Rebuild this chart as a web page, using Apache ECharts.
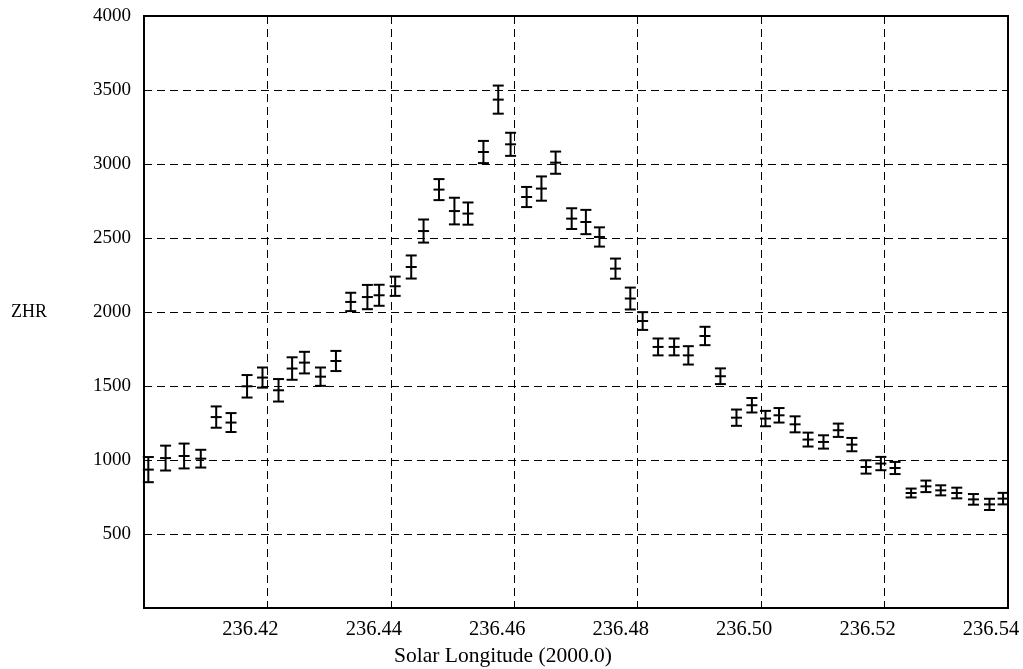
<!DOCTYPE html>
<html>
<head>
<meta charset="utf-8">
<script src="https://cdn.jsdelivr.net/npm/echarts@6/dist/echarts.min.js"></script>
<style>
html,body{margin:0;padding:0;background:#fff;}
#chart{width:1023px;height:669px;}
</style>
</head>
<body>
<div id="chart"></div>
<script>
// Solar longitude (J2000.0) of each ZHR estimate
const solarLongitude = [
  236.4007, 236.4035, 236.4065, 236.4092, 236.4117, 236.4141, 236.4167, 236.4192, 236.4218, 236.4240,
  236.4260, 236.4286, 236.4311, 236.4335, 236.4362, 236.4381, 236.4407, 236.4433, 236.4453, 236.4478,
  236.4503, 236.4525, 236.4550, 236.4574, 236.4594, 236.4620, 236.4644, 236.4667, 236.4693, 236.4716,
  236.4738, 236.4764, 236.4788, 236.4808, 236.4833, 236.4859, 236.4882, 236.4909, 236.4934, 236.4960,
  236.4985, 236.5007, 236.5029, 236.5055, 236.5076, 236.5101, 236.5125, 236.5147, 236.5170, 236.5194,
  236.5217, 236.5243, 236.5267, 236.5291, 236.5317, 236.5344, 236.5370, 236.5392
];
// ZHR values
const zhr = [
  935, 1013, 1027, 1009, 1290, 1253, 1498, 1557, 1471, 1618,
  1658, 1563, 1669, 2068, 2101, 2113, 2174, 2304, 2547, 2827,
  2682, 2665, 3081, 3435, 3133, 2777, 2834, 3009, 2631, 2608,
  2507, 2293, 2091, 1939, 1764, 1764, 1707, 1838, 1566, 1286,
  1370, 1280, 1302, 1241, 1138, 1122, 1201, 1104, 953, 976,
  946, 777, 822, 795, 777, 734, 700, 739
];
// ZHR error (half-length of error bar)
const zhrError = [
  85, 84, 84, 60, 72, 64, 76, 68, 76, 76,
  73, 62, 68, 62, 82, 71, 65, 78, 78, 71,
  90, 75, 75, 95, 78, 68, 82, 75, 70, 82,
  65, 68, 74, 60, 57, 57, 62, 62, 53, 55,
  49, 52, 49, 54, 47, 45, 45, 45, 45, 45,
  41, 30, 39, 34, 36, 36, 38, 39
];
const xTickLabels = ['236.42', '236.44', '236.46', '236.48', '236.50', '236.52', '236.54'];
const yTickLabels = ['500', '1000', '1500', '2000', '2500', '3000', '3500', '4000'];

const data = solarLongitude.map((x, i) => [x, zhr[i], zhrError[i]]);
const FONT = '"Liberation Serif", "DejaVu Serif", serif';

const chart = echarts.init(document.getElementById('chart'), null, {renderer: 'canvas'});
chart.setOption({
  animation: false,
  backgroundColor: '#ffffff',
  grid: {left: 144, right: 15, top: 16, bottom: 61, show: true, borderColor: '#000', borderWidth: 2,
         backgroundColor: 'transparent', containLabel: false, outerBoundsMode: 'none'},
  xAxis: {
    type: 'value', min: 236.40, max: 236.54, interval: 0.02,
    name: 'Solar Longitude (2000.0)', nameLocation: 'middle', nameGap: 35,
    nameTextStyle: {fontFamily: FONT, fontSize: 21.5, color: '#000', padding: [0, 146, 0, 0]},
    axisLine: {show: true, lineStyle: {color: '#000', width: 2}},
    axisTick: {show: false},
    axisLabel: {
      showMinLabel: false, showMaxLabel: true, margin: 11,
      fontFamily: FONT, fontSize: 20.5, color: '#000', padding: [0, 34, 0, 0],
      formatter: function (v) { const s = v.toFixed(2); return xTickLabels.indexOf(s) >= 0 ? s : ''; }
    },
    splitLine: {show: true, lineStyle: {color: '#000', width: 1, type: [8, 5]}}
  },
  yAxis: {
    type: 'value', min: 0, max: 4000, interval: 500,
    name: 'ZHR', nameLocation: 'middle', nameRotate: 0, nameGap: 97,
    nameTextStyle: {fontFamily: FONT, fontSize: 18, color: '#000', align: 'right', verticalAlign: 'middle'},
    axisLine: {show: true, lineStyle: {color: '#000', width: 2}},
    axisTick: {show: false},
    axisLabel: {
      showMinLabel: false, margin: 13,
      fontFamily: FONT, fontSize: 19, color: '#000',
      formatter: function (v) { const s = String(v); return yTickLabels.indexOf(s) >= 0 ? s : ''; }
    },
    splitLine: {show: true, lineStyle: {color: '#000', width: 1, type: [8, 5]}}
  },
  series: [{
    type: 'custom',
    data: data,
    encode: {x: 0, y: 1},
    renderItem: function (params, api) {
      const x = api.value(0), y = api.value(1), e = api.value(2);
      const c = api.coord([x, y]);
      const hi = api.coord([x, y + e]);
      const lo = api.coord([x, y - e]);
      const hw = 5.5;
      const st = {stroke: '#000', lineWidth: 2};
      return {
        type: 'group',
        children: [
          {type: 'line', shape: {x1: c[0], y1: hi[1], x2: c[0], y2: lo[1]}, style: st},
          {type: 'line', shape: {x1: c[0] - hw, y1: hi[1], x2: c[0] + hw, y2: hi[1]}, style: st},
          {type: 'line', shape: {x1: c[0] - hw, y1: lo[1], x2: c[0] + hw, y2: lo[1]}, style: st},
          {type: 'line', shape: {x1: c[0] - hw, y1: c[1], x2: c[0] + hw, y2: c[1]}, style: st}
        ]
      };
    }
  }]
});
</script>
</body>
</html>
